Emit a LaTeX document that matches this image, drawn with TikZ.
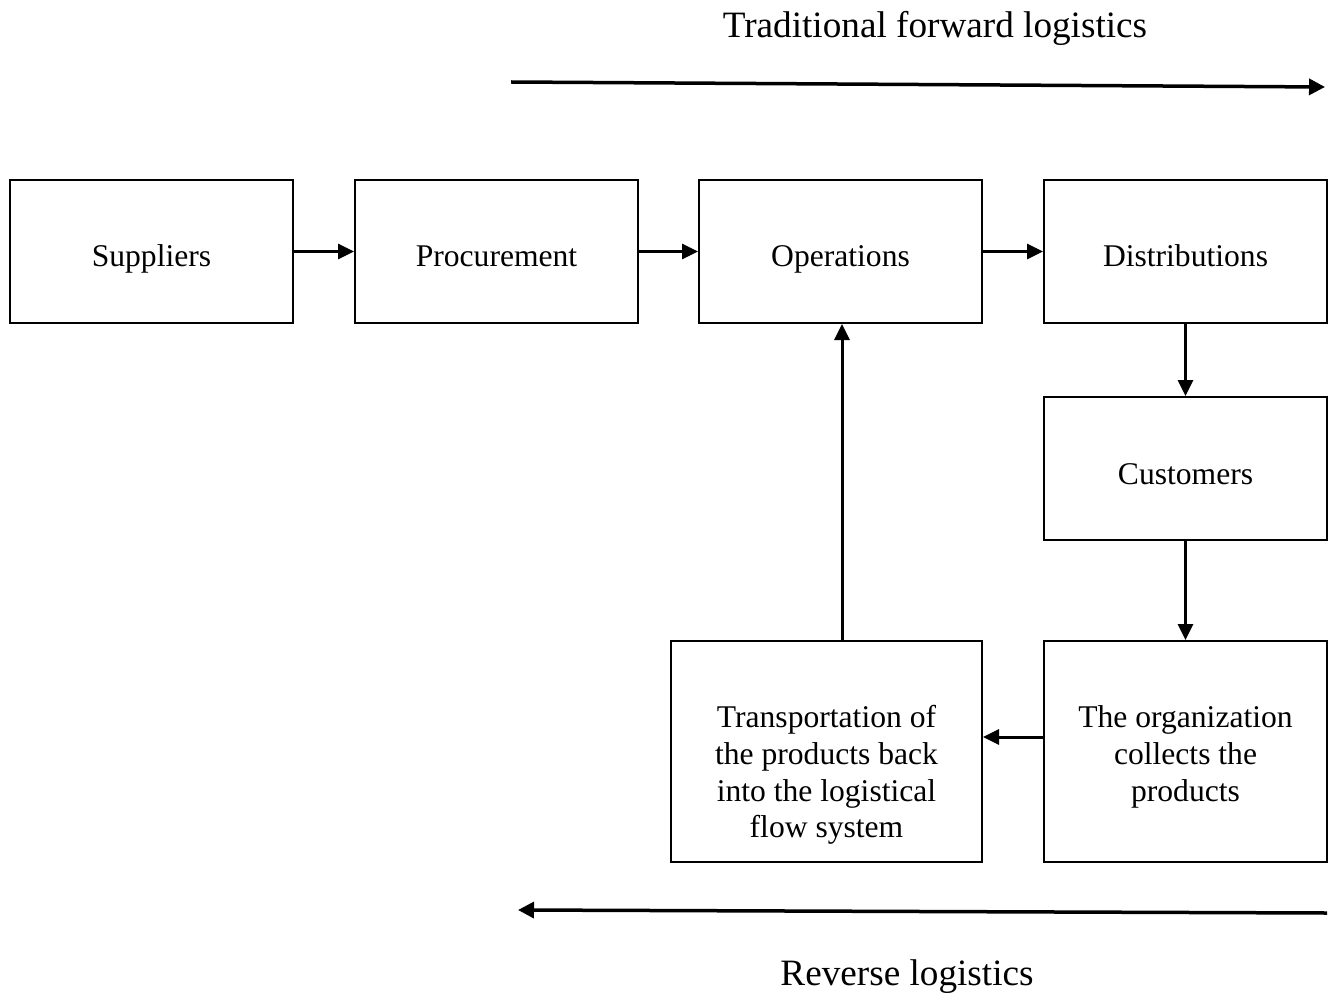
\documentclass[tikz,border=0pt]{standalone}
\usepackage{fontspec}
\setmainfont{Liberation Serif}
\usetikzlibrary{arrows.meta}
\begin{document}
\begin{tikzpicture}[x=0.5pt,y=-0.5pt,
  box/.style={draw,line width=1pt,minimum width=141.5pt,minimum height=71.5pt,inner sep=0pt,
    font=\fontsize{15.8}{18.35}\selectfont,align=center,text height=15.5pt,text depth=0pt},
  tallbox/.style={draw,line width=1pt,minimum width=141.5pt,minimum height=110.5pt,inner sep=0pt},
  txt/.style={inner sep=0pt,font=\fontsize{15.8}{18.35}\selectfont,align=center},
  title/.style={inner sep=0pt,font=\fontsize{18.6}{21}\selectfont},
  arr/.style={line width=1.5pt,-{Triangle[length=8pt,width=7.5pt]}},
  longarr/.style={line width=1.75pt,-{Triangle[length=8pt,width=8pt]}}]
\useasboundingbox (0,0) rectangle (1336,994);

% forward chain
\node[box] (sup)  at (151.5,251.5) {Suppliers};
\node[box] (proc) at (496.5,251.5) {Procurement};
\node[box] (ops)  at (840.5,251.5) {Operations};
\node[box] (dist) at (1185.5,251.5) {Distributions};
\node[box] (cust) at (1185.5,468.5) {Customers};

% return loop
\node[tallbox] (org) at (1185.5,751.5) {};
\node[txt] (orgtext) at (1185.5,757) {The organization\\collects the\\products};
\node[tallbox,minimum width=155.5pt] (trans) at (826.5,751.5) {};
\node[txt] (transtext) at (826.5,775) {Transportation of\\the products back\\into the logistical\\flow system};

\draw[arr] (sup) -- (proc);
\draw[arr] (proc) -- (ops);
\draw[arr] (ops) -- (dist);
\draw[arr] (dist) -- (cust);
\draw[arr] (cust) -- (org);
\coordinate (rowback) at (0,737);
\draw[arr] (org.west |- rowback) -- (trans.east |- rowback);
\coordinate (colup) at (842,0);
\draw[arr] (trans.north -| colup) -- (ops.south -| colup);

% direction arrows and their captions
\coordinate (fwdA) at (511,82);
\coordinate (fwdB) at (1325,87);
\draw[longarr] (fwdA) -- (fwdB);
\node[title] (fwdlabel) at (935,28) {Traditional forward logistics};

\coordinate (revA) at (1327,913);
\coordinate (revB) at (518,910);
\draw[longarr] (revA) -- (revB);
\node[title] (revlabel) at (907,977) {Reverse logistics};
\end{tikzpicture}
\end{document}
